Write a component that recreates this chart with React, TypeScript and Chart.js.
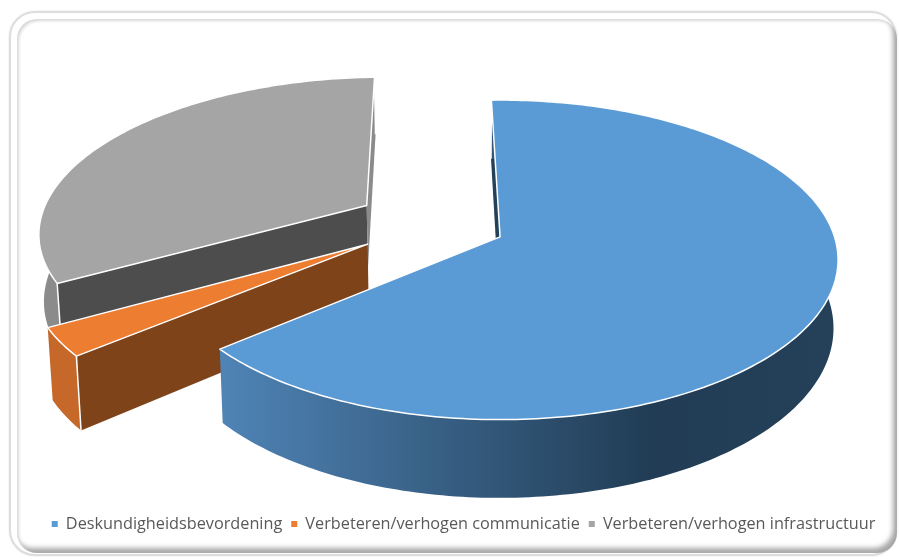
import React, { useEffect, useRef } from "react";
import { Chart, registerables } from "chart.js";

Chart.register(...registerables);

const categories = [
  "Deskundigheidsbevordening",
  "Verbeteren/verhogen communicatie",
  "Verbeteren/verhogen infrastructuur",
];
const shares = [64.2, 3, 32.8];
const topColors = ["#5B9BD5", "#ED7D31", "#A5A5A5"];
const startEdgeColors = ["#24415A", "#7F4319", "#4D4D4D"];
const endEdgeColors = ["#24415A", "#7F4319", "#8B8B8B"];
const rimStops = [
  [["0", "#4F84B6"], ["0.7", "#213C54"], ["1", "#25415A"]],
  [["0", "#C5682A"], ["1", "#C5682A"]],
  [["0", "#8B8B8B"], ["1", "#8B8B8B"]],
];
const explosions = [0.22, 0.235, 0.24];
const sliceScales = [1, 0.985, 0.99];

const ORIGIN_U = -0.201;
const ORIGIN_V = -0.09;
const TILT = 0.144;
const CENTER_X = 500;
const CENTER_Y = 237;
const RADIUS_X = 334.5;
const RADIUS_Y = 156.5;
const DEPTH = 67;
const VANISH_X = 460;
const SHRINK = 0.012;

type P = { x: number; y: number };

function project(u: number, v: number, z: number): P {
  const U = u + ORIGIN_U;
  const V = v + ORIGIN_V;
  const w = 1 - TILT * V;
  const x0 = CENTER_X + (RADIUS_X * U) / w;
  const y0 = CENTER_Y + (RADIUS_Y * V) / w;
  return {
    x: VANISH_X + (x0 - VANISH_X) * (1 - SHRINK * z),
    y: y0 + (z * DEPTH) / w,
  };
}

function tracePoly(ctx: CanvasRenderingContext2D, pts: P[]) {
  ctx.beginPath();
  pts.forEach((p, i) => (i ? ctx.lineTo(p.x, p.y) : ctx.moveTo(p.x, p.y)));
  ctx.closePath();
}

const pie3d = {
  id: "pie3d",
  beforeDatasetsDraw(chart: Chart) {
    const ctx = chart.ctx;
    const arcs = chart.getDatasetMeta(0).data as any[];
    ctx.save();
    ctx.lineJoin = "round";
    [2, 1, 0].forEach((i) => {
      const { startAngle: a0, endAngle: a1 } = arcs[i].getProps(["startAngle", "endAngle"]);
      const mid = (a0 + a1) / 2;
      const ox = explosions[i] * Math.cos(mid);
      const oy = explosions[i] * Math.sin(mid);
      const r = sliceScales[i];
      const at = (a: number, z: number) => project(ox + r * Math.cos(a), oy + r * Math.sin(a), z);
      const apexTop = project(ox, oy, 0);
      const apexBot = project(ox, oy, 1);
      const steps = Math.max(8, Math.ceil(((a1 - a0) * 180) / Math.PI));
      const topRim: P[] = [];
      const botRim: P[] = [];
      for (let s = 0; s <= steps; s++) {
        const a = a0 + ((a1 - a0) * s) / steps;
        topRim.push(at(a, 0));
        botRim.push(at(a, 1));
      }
      const inner = project(ox + 0.5 * Math.cos(mid), oy + 0.5 * Math.sin(mid), 0);
      const cross = (a: P, b: P) => a.x * b.y - a.y * b.x;
      const sub = (a: P, b: P) => ({ x: a.x - b.x, y: a.y - b.y });
      const faces = (top: P, bot: P) =>
        cross(sub(top, apexTop), sub(bot, top)) * cross(sub(top, apexTop), sub(inner, apexTop)) < 0;

      const drawEdge = (top: P, bot: P, color: string) => {
        if (!faces(top, bot)) return;
        tracePoly(ctx, [apexTop, top, bot, apexBot]);
        ctx.fillStyle = color;
        ctx.fill();
      };
      drawEdge(topRim[0], botRim[0], startEdgeColors[i]);
      drawEdge(topRim[steps], botRim[steps], endEdgeColors[i]);

      // outer rim of the slice
      const xs = topRim.concat(botRim).map((p) => p.x);
      const grad = ctx.createLinearGradient(Math.min(...xs), 0, Math.max(...xs), 0);
      rimStops[i].forEach(([o, c]) => grad.addColorStop(Number(o), c));
      tracePoly(ctx, topRim.concat(botRim.slice().reverse()));
      ctx.fillStyle = grad;
      ctx.fill();

      // white vertical corner lines
      ctx.strokeStyle = "#FFFFFF";
      ctx.lineWidth = 1.5;
      [0, steps].forEach((s) => {
        if (faces(topRim[s], botRim[s])) {
          ctx.beginPath();
          ctx.moveTo(topRim[s].x, topRim[s].y);
          ctx.lineTo(botRim[s].x, botRim[s].y);
          ctx.stroke();
        }
      });

      // top face
      tracePoly(ctx, [apexTop, ...topRim]);
      ctx.fillStyle = topColors[i];
      ctx.fill();
      ctx.stroke();
    });
    ctx.restore();
    return false;
  },
};

export default function App() {
  const ref = useRef<HTMLCanvasElement>(null);
  useEffect(() => {
    const chart = new Chart(ref.current as HTMLCanvasElement, {
      type: "pie",
      data: {
        labels: categories,
        datasets: [{ data: shares, backgroundColor: topColors, borderWidth: 0 }],
      },
      options: {
        animation: false,
        responsive: false,
        rotation: -1.7,
        layout: { padding: { bottom: 17, left: 28 } },
        plugins: {
          tooltip: { enabled: false },
          legend: {
            position: "bottom",
            labels: {
              usePointStyle: true,
              pointStyle: "rect",
              boxWidth: 6,
              boxHeight: 6,
              padding: 9,
              color: "#595959",
              font: { family: "'Open Sans'", size: 16.25 },
            },
          },
        },
      },
      plugins: [pie3d as any],
    });
    return () => chart.destroy();
  }, []);
  return (
    <div style={{ position: "absolute", left: 0, top: 0, width: 899, height: 559, background: "#fff", overflow: "hidden" }}>
      <div
        style={{
          position: "absolute",
          left: 9,
          top: 11,
          width: 884,
          height: 541,
          border: "2px solid #DDDDDD",
          borderRadius: 26,
          boxShadow: "0 0 2px #DDDDDD",
        }}
      />
      <div
        style={{
          position: "absolute",
          left: 17,
          top: 19,
          width: 880,
          height: 534,
          borderRadius: 20,
          boxShadow: "inset 2px 2px 3px #D8D8D8, inset -4px -5px 5px #A8A8A8",
        }}
      />
      <canvas ref={ref} width={899} height={559} style={{ position: "absolute", left: 0, top: 0, display: "block" }} />
    </div>
  );
}
